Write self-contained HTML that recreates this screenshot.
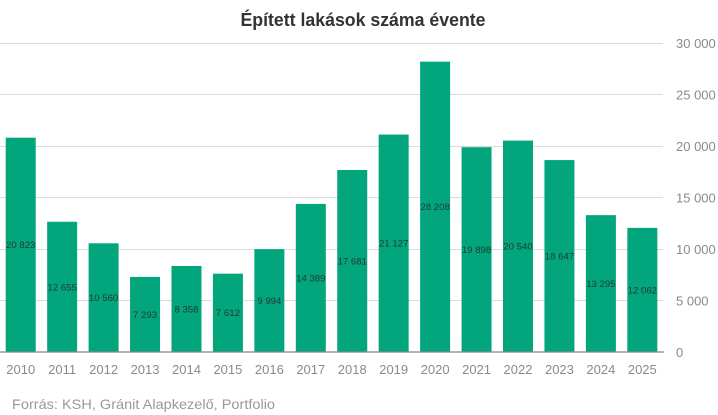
<!DOCTYPE html>
<html><head><meta charset="utf-8"><style>
html,body{margin:0;padding:0;background:#fff;}
svg{display:block;}
text{font-family:"Liberation Sans",Arial,sans-serif;}
</style></head><body>
<svg width="718" height="415" viewBox="0 0 718 415" xmlns="http://www.w3.org/2000/svg">
<rect width="718" height="415" fill="#fff"/>
<text x="363" y="26" text-anchor="middle" font-size="18" font-weight="bold" fill="#333" textLength="245" lengthAdjust="spacingAndGlyphs">Épített lakások száma évente</text>
<g stroke="#dcdcdc" stroke-width="1">
<line x1="0" x2="663" y1="43.5" y2="43.5"/>
<line x1="0" x2="663" y1="94.5" y2="94.5"/>
<line x1="0" x2="663" y1="146.5" y2="146.5"/>
<line x1="0" x2="663" y1="197.5" y2="197.5"/>
<line x1="0" x2="663" y1="249.5" y2="249.5"/>
<line x1="0" x2="663" y1="300.5" y2="300.5"/>
</g>
<g font-size="13" fill="#8a8a8a">
<text x="676" y="48">30 000</text>
<text x="676" y="99.5">25 000</text>
<text x="676" y="151">20 000</text>
<text x="676" y="202.5">15 000</text>
<text x="676" y="254">10 000</text>
<text x="676" y="305.5">5 000</text>
<text x="676" y="357">0</text>
</g>
<g fill="#03a57d">
<rect x="5.72" y="137.7" width="30" height="214.3"/>
<rect x="47.16" y="221.74" width="30" height="130.26"/>
<rect x="88.6" y="243.3" width="30" height="108.7"/>
<rect x="130.04" y="276.93" width="30" height="75.07"/>
<rect x="171.48" y="265.97" width="30" height="86.03"/>
<rect x="212.92" y="273.65" width="30" height="78.35"/>
<rect x="254.36" y="249.13" width="30" height="102.87"/>
<rect x="295.8" y="203.9" width="30" height="148.1"/>
<rect x="337.24" y="170.0" width="30" height="182.0"/>
<rect x="378.68" y="134.54" width="30" height="217.46"/>
<rect x="420.12" y="61.65" width="30" height="290.35"/>
<rect x="461.56" y="147.2" width="30" height="204.8"/>
<rect x="503" y="140.6" width="30" height="211.4"/>
<rect x="544.44" y="160.07" width="30" height="191.93"/>
<rect x="585.88" y="215.15" width="30" height="136.85"/>
<rect x="627.32" y="227.85" width="30" height="124.15"/>
</g>
<line x1="0" x2="664" y1="352" y2="352" stroke="#888" stroke-width="1.2"/>
<g font-size="9.6" fill="#1e3a31" text-anchor="middle">
<text x="20.72" y="248.2">20 823</text>
<text x="62.16" y="290.3">12 655</text>
<text x="103.6" y="301">10 560</text>
<text x="145.04" y="317.9">7 293</text>
<text x="186.48" y="312.4">8 358</text>
<text x="227.92" y="316.2">7 612</text>
<text x="269.36" y="304">9 994</text>
<text x="310.8" y="281.3">14 389</text>
<text x="352.24" y="264.4">17 681</text>
<text x="393.68" y="246.7">21 127</text>
<text x="435.12" y="210.2">28 208</text>
<text x="476.56" y="253">19 898</text>
<text x="518" y="249.7">20 540</text>
<text x="559.44" y="259.4">18 647</text>
<text x="600.88" y="287">13 295</text>
<text x="642.32" y="293.3">12 062</text>
</g>
<g font-size="13" fill="#8a8a8a" text-anchor="middle">
<text x="20.72" y="374">2010</text>
<text x="62.16" y="374">2011</text>
<text x="103.6" y="374">2012</text>
<text x="145.04" y="374">2013</text>
<text x="186.48" y="374">2014</text>
<text x="227.92" y="374">2015</text>
<text x="269.36" y="374">2016</text>
<text x="310.8" y="374">2017</text>
<text x="352.24" y="374">2018</text>
<text x="393.68" y="374">2019</text>
<text x="435.12" y="374">2020</text>
<text x="476.56" y="374">2021</text>
<text x="518" y="374">2022</text>
<text x="559.44" y="374">2023</text>
<text x="600.88" y="374">2024</text>
<text x="642.32" y="374">2025</text>
</g>
<text x="12" y="409" font-size="14" fill="#999" textLength="263" lengthAdjust="spacingAndGlyphs">Forrás: KSH, Gránit Alapkezelő, Portfolio</text>
</svg>
</body></html>
